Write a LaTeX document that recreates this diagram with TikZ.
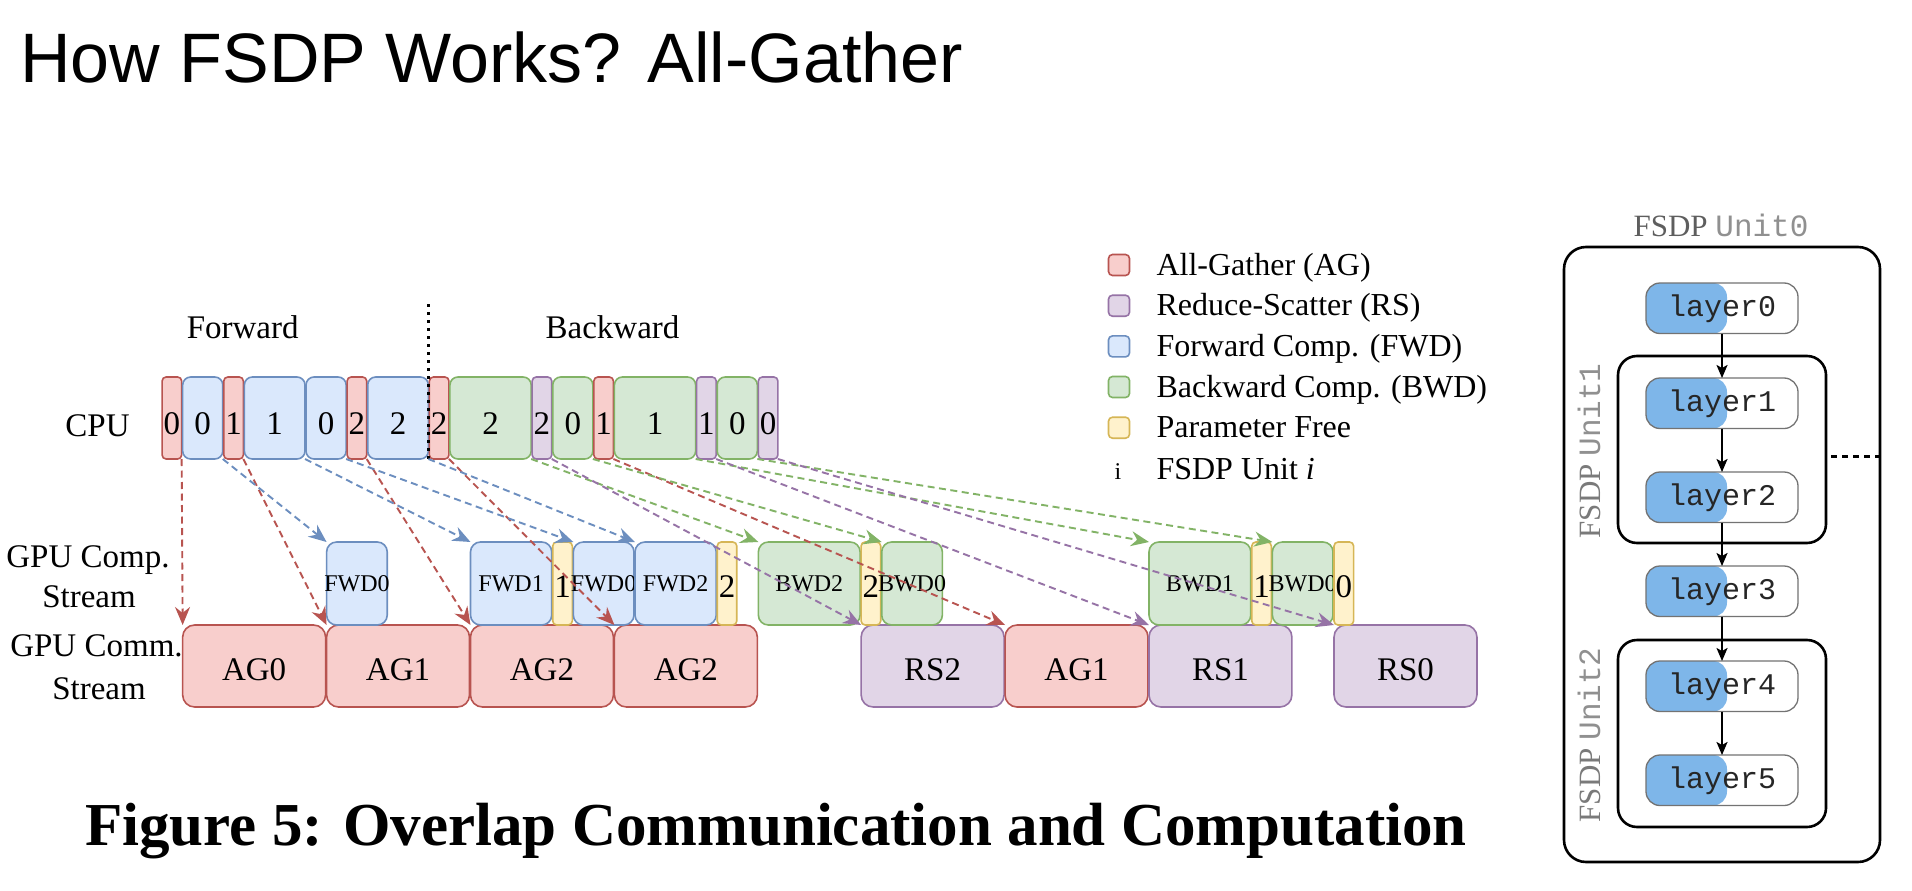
\documentclass[tikz,border=0pt]{standalone}
\usepackage{fontspec}
\setmainfont{Liberation Serif}
\setmonofont{Liberation Mono}
\newfontfamily\sansf{Liberation Sans}
\usetikzlibrary{arrows.meta}

\definecolor{agfill}{HTML}{F8CECC}\definecolor{agline}{HTML}{B85450}
\definecolor{rsfill}{HTML}{E1D5E7}\definecolor{rsline}{HTML}{9673A6}
\definecolor{fwfill}{HTML}{DAE8FC}\definecolor{fwline}{HTML}{6C8EBF}
\definecolor{bwfill}{HTML}{D5E8D4}\definecolor{bwline}{HTML}{82B366}
\definecolor{pffill}{HTML}{FFF2CC}\definecolor{pfline}{HTML}{D6B656}
\definecolor{layerblue}{HTML}{7EB6E9}
\definecolor{unitdark}{HTML}{5E5E5E}
\definecolor{unitmid}{HTML}{7A7A7A}
\definecolor{unitlight}{HTML}{909090}

% one slot of the timeline: name, style, first unit, last unit, top, bottom, label
\newcommand\tlbox[7]{%
  \node[#2, minimum width={(#4-#3)*20.56-1}, minimum height={#6-#5}]
    (#1) at ({161.6+#3*20.56+0.5}, #5) {\makebox[0pt]{#7}};}

\tikzset{
  tbox/.style={draw, line width=1.6pt, inner sep=0pt, outer sep=0pt, anchor=north west},
  ag/.style={tbox, fill=agfill, draw=agline},
  rs/.style={tbox, fill=rsfill, draw=rsline},
  fw/.style={tbox, fill=fwfill, draw=fwline},
  bw/.style={tbox, fill=bwfill, draw=bwline},
  pf/.style={tbox, fill=pffill, draw=pfline},
  thin/.style={rounded corners=4pt},
  wide/.style={rounded corners=8pt},
  cpu/.style={font=\fontsize{33}{40}\selectfont, text height=32pt, text depth=0pt},
  comp/.style={font=\fontsize{24}{29}\selectfont, rounded corners=10pt},
  pfnum/.style={font=\fontsize{33}{40}\selectfont, text height=27pt, text depth=0pt, rounded corners=4pt},
  comm/.style={font=\fontsize{33}{40}\selectfont, text height=28pt, text depth=0pt, rounded corners=12pt},
  flow/.style={line width=1.9pt, dash pattern=on 7pt off 4.5pt,
    -{Stealth[length=18pt, width=15pt, inset=6pt]}},
  legsq/.style={draw, line width=1.6pt, minimum size=21pt, inner sep=0pt, rounded corners=4pt},
  legtxt/.style={anchor=base west, font=\fontsize{32}{38}\selectfont},
  lbl/.style={font=\fontsize{33}{40}\selectfont, anchor=base, inner sep=0pt},
  layer/.style={draw=black!55, line width=1.3pt, rounded corners=14pt, minimum width=152pt,
    minimum height=50.5pt, inner sep=0pt, outer sep=0pt, anchor=north west,
    font=\ttfamily\fontsize{30}{36}\selectfont, text=black!85,
    path picture={\fill[layerblue, rounded corners=14pt]
      (path picture bounding box.south west) rectangle
      ([xshift=81pt]path picture bounding box.north west);}},
  unitbox/.style={draw, line width=2.6pt, inner sep=0pt, outer sep=0pt, anchor=north west},
  step arrow/.style={line width=2.2pt, -{Stealth[length=13pt, width=11pt, inset=3pt]}},
}

\begin{document}
\begin{tikzpicture}[x=1pt, y=-1pt]
\useasboundingbox (0,0) rectangle (1912,891);
\fill[white] (0,0) rectangle (1912,891);

% heading and caption
\node[anchor=base west, inner sep=0pt, font=\sansf\fontsize{70}{84}\selectfont] (title) at (20,83)
  {How FSDP Works? All-Gather};
\node[anchor=base west, inner sep=0pt, font=\bfseries\fontsize{61}{72}\selectfont] (caption) at (85,845)
  {Figure 5: Overlap Communication and Computation};

% row headings
\node[lbl] (cpulbl) at (97.5,436) {CPU};
\node[lbl] (complbl) at (88,567) {GPU Comp.};
\node[lbl] (complbl2) at (89,607) {Stream};
\node[lbl] (commlbl) at (96.5,656) {GPU Comm.};
\node[lbl] (commlbl2) at (99,699) {Stream};
\node[lbl] (fwdlbl) at (242.7,338) {Forward};
\node[lbl] (bwdlbl) at (612.5,338) {Backward};

% GPU communication stream
\tlbox{mA0}{ag,comm}{1}{8}{625}{707}{AG0}
\tlbox{mA1}{ag,comm}{8}{15}{625}{707}{AG1}
\tlbox{mA2}{ag,comm}{15}{22}{625}{707}{AG2}
\tlbox{mA2b}{ag,comm}{22}{29}{625}{707}{AG2}
\tlbox{mR2}{rs,comm}{34}{41}{625}{707}{RS2}
\tlbox{mA1b}{ag,comm}{41}{48}{625}{707}{AG1}
\tlbox{mR1}{rs,comm}{48}{55}{625}{707}{RS1}
\tlbox{mR0}{rs,comm}{57}{64}{625}{707}{RS0}

% GPU computation stream
\tlbox{gF0}{fw,comp}{8}{11}{542}{625}{FWD0}
\tlbox{gF1}{fw,comp}{15}{19}{542}{625}{FWD1}
\tlbox{gP1}{pf,pfnum}{19}{20}{542}{625}{1}
\tlbox{gF0b}{fw,comp}{20}{23}{542}{625}{FWD0}
\tlbox{gF2}{fw,comp}{23}{27}{542}{625}{FWD2}
\tlbox{gP2}{pf,pfnum}{27}{28}{542}{625}{2}
\tlbox{gB2}{bw,comp}{29}{34}{542}{625}{BWD2}
\tlbox{gP2b}{pf,pfnum}{34}{35}{542}{625}{2}
\tlbox{gB0}{bw,comp}{35}{38}{542}{625}{BWD0}
\tlbox{gB1}{bw,comp}{48}{53}{542}{625}{BWD1}
\tlbox{gP1b}{pf,pfnum}{53}{54}{542}{625}{1}
\tlbox{gB0b}{bw,comp}{54}{57}{542}{625}{BWD0}
\tlbox{gP0}{pf,pfnum}{57}{58}{542}{625}{0}

% CPU issue order
\tlbox{cA0}{ag,cpu,thin}{0}{1}{377}{459}{0}
\tlbox{cF0}{fw,cpu,wide}{1}{3}{377}{459}{0}
\tlbox{cA1}{ag,cpu,thin}{3}{4}{377}{459}{1}
\tlbox{cF1}{fw,cpu,wide}{4}{7}{377}{459}{1}
\tlbox{cF0b}{fw,cpu,wide}{7}{9}{377}{459}{0}
\tlbox{cA2}{ag,cpu,thin}{9}{10}{377}{459}{2}
\tlbox{cF2}{fw,cpu,wide}{10}{13}{377}{459}{2}
\tlbox{cA2b}{ag,cpu,thin}{13}{14}{377}{459}{2}
\tlbox{cB2}{bw,cpu,wide}{14}{18}{377}{459}{2}
\tlbox{cR2}{rs,cpu,thin}{18}{19}{377}{459}{2}
\tlbox{cB0}{bw,cpu,wide}{19}{21}{377}{459}{0}
\tlbox{cA1b}{ag,cpu,thin}{21}{22}{377}{459}{1}
\tlbox{cB1}{bw,cpu,wide}{22}{26}{377}{459}{1}
\tlbox{cR1}{rs,cpu,thin}{26}{27}{377}{459}{1}
\tlbox{cB0b}{bw,cpu,wide}{27}{29}{377}{459}{0}
\tlbox{cR0}{rs,cpu,thin}{29}{30}{377}{459}{0}

% forward / backward split
\coordinate (splittop) at (428.9,304);
\draw[line width=3pt, dash pattern=on 3pt off 5pt] (splittop) -- (splittop |- cA2b.south);

% launches: CPU slot -> GPU stream slot
\draw[flow, agline] (cA0.south east) -- (mA0.north west);
\draw[flow, agline] (cA1.south east) -- (mA1.north west);
\draw[flow, agline] (cA2.south east) -- (mA2.north west);
\draw[flow, agline] (cA2b.south east) -- (mA2b.north west);
\draw[flow, agline] (cA1b.south east) -- (mA1b.north west);
\draw[flow, fwline] (cF0.south east) -- (gF0.north west);
\draw[flow, fwline] (cF1.south east) -- (gF1.north west);
\draw[flow, fwline] (cF0b.south east) -- (gF0b.north west);
\draw[flow, fwline] (cF2.south east) -- (gF2.north west);
\draw[flow, bwline] (cB2.south east) -- (gB2.north west);
\draw[flow, bwline] (cB0.south east) -- (gB0.north west);
\draw[flow, bwline] (cB1.south east) -- (gB1.north west);
\draw[flow, bwline] (cB0b.south east) -- (gB0b.north west);
\draw[flow, rsline] (cR2.south east) -- (mR2.north west);
\draw[flow, rsline] (cR1.south east) -- (mR1.north west);
\draw[flow, rsline] (cR0.south east) -- (mR0.north west);

% legend
\node[legsq, fill=agfill, draw=agline] (kAG) at (1119,265) {};
\node[legsq, fill=rsfill, draw=rsline] (kRS) at (1119,305.7) {};
\node[legsq, fill=fwfill, draw=fwline] (kFW) at (1119,346.4) {};
\node[legsq, fill=bwfill, draw=bwline] (kBW) at (1119,387) {};
\node[legsq, fill=pffill, draw=pfline] (kPF) at (1119,427.7) {};
\node[anchor=base, font=\fontsize{24}{29}\selectfont, inner sep=0pt] (kU) at (1118,479) {i};
\node[legtxt] (tAG) at (1153,275) {All-Gather (AG)};
\node[legtxt] (tRS) at (1153,315.7) {Reduce-Scatter (RS)};
\node[legtxt] (tFW) at (1153,356.4) {Forward Comp. (FWD)};
\node[legtxt] (tBW) at (1153,397) {Backward Comp. (BWD)};
\node[legtxt] (tPF) at (1153,437.7) {Parameter Free};
\node[legtxt] (tU) at (1153,479) {FSDP Unit \textit{i}};

% FSDP unit nesting
\node[anchor=base, inner sep=0pt, font=\fontsize{31}{37}\selectfont] (u0lbl) at (1721,236)
  {{\color{unitdark}FSDP} {\color{unitlight}\ttfamily Unit0}};
\node[unitbox, rounded corners=22pt, minimum width=316pt, minimum height=615pt] (unit0) at (1564,247) {};
\node[unitbox, rounded corners=19pt, minimum width=208pt, minimum height=187pt] (unit1) at (1618,356) {};
\node[unitbox, rounded corners=19pt, minimum width=208pt, minimum height=187pt] (unit2) at (1618,640) {};
\node[rotate=90, inner sep=0pt, font=\fontsize{31}{37}\selectfont] (u1lbl) at (1589,451)
  {{\color{unitmid}FSDP} {\color{unitlight}\ttfamily Unit1}};
\node[rotate=90, inner sep=0pt, font=\fontsize{31}{37}\selectfont] (u2lbl) at (1589,735)
  {{\color{unitmid}FSDP} {\color{unitlight}\ttfamily Unit2}};

\node[layer] (l0) at (1646,283) {layer0};
\node[layer] (l1) at (1646,378) {layer1};
\node[layer] (l2) at (1646,472) {layer2};
\node[layer] (l3) at (1646,566) {layer3};
\node[layer] (l4) at (1646,661) {layer4};
\node[layer] (l5) at (1646,755) {layer5};

\draw[step arrow] (l0) -- (l1);
\draw[step arrow] (l1) -- (l2);
\draw[step arrow] (l2) -- (l3);
\draw[step arrow] (l3) -- (l4);
\draw[step arrow] (l4) -- (l5);

\coordinate (more) at (1831,456.7);
\draw[line width=2.6pt, dash pattern=on 6pt off 5pt] (more) -- (more -| unit0.east);
\end{tikzpicture}
\end{document}
